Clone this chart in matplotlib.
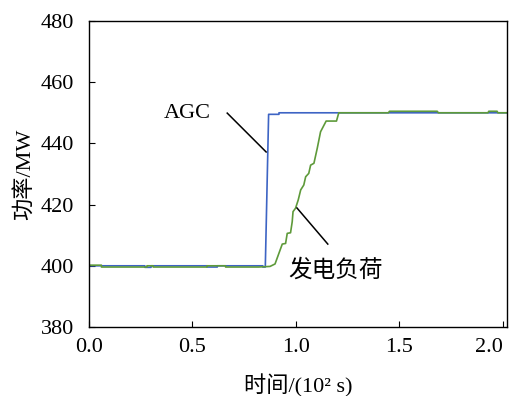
import matplotlib.pyplot as plt
import numpy as np

plt.rcParams['font.family'] = ['Liberation Serif', 'Noto Sans CJK SC']

# AGC command (time in 1e2 s, power in MW)
agc_t = [0.00, 0.27, 0.27, 0.30, 0.30, 0.57, 0.57, 0.62, 0.62, 0.84, 0.84,
         0.852, 0.868, 0.918, 0.918, 2.02]
agc_p = [400.0, 400.0, 399.5, 399.5, 400.0, 400.0, 399.6, 399.6, 400.0, 400.0, 399.6,
         399.6, 449.5, 449.5, 450.0, 450.0]

# generator load
load_t = [0.00, 0.06, 0.06, 0.28, 0.28, 0.31, 0.31, 0.57, 0.57, 0.66, 0.66,
          0.82, 0.82, 0.875, 0.899, 0.934, 0.950, 0.958, 0.974, 0.982, 0.986,
          0.998, 1.011, 1.023, 1.038, 1.047, 1.062, 1.071, 1.087, 1.103, 1.119,
          1.146, 1.196, 1.207, 1.447, 1.452, 1.683, 1.688, 1.928, 1.932, 1.972,
          1.976, 2.02]
load_p = [400.2, 400.2, 399.6, 399.6, 400.0, 400.0, 399.6, 399.6, 400.0, 400.0, 399.6,
          399.6, 399.6, 399.8, 400.6, 407.1, 407.3, 410.6, 410.8, 414.4, 417.7,
          418.8, 421.5, 424.8, 426.4, 429.1, 430.2, 432.9, 433.5, 438.4, 443.8,
          447.3, 447.3, 450.0, 450.0, 450.5, 450.5, 450.0, 450.0, 450.5, 450.5,
          450.0, 450.0]

xticks = [0.0, 0.5, 1.0, 1.5, 2.0]
yticks = [380, 400, 420, 440, 460, 480]

fig = plt.figure(figsize=(5.11, 3.96), dpi=100)
ax = fig.add_axes([89 / 511, 1 - 327 / 396, 418 / 511, 306 / 396])

ax.plot(agc_t, agc_p, color='#3d64c4', lw=1.2)
ax.plot(load_t, load_p, color='#5e9a3a', lw=1.2)

# labels with leader lines
ax.text(0.476, 449.9, 'AGC', fontsize=16, ha='center', va='center')
ax.plot([0.668, 0.856], [449.9, 437.2], color='black', lw=1.1)
ax.text(1.19, 398.6, '发电负荷', fontsize=17, ha='center', va='center')
ax.plot([1.005, 1.154], [418.9, 407.1], color='black', lw=1.1)

ax.set_xlim(0, 2.02)
ax.set_ylim(380, 480)
ax.set_xticks(xticks)
ax.set_xticklabels(['%.1f' % v for v in xticks])
ax.get_xticklabels()[-1].set_ha('right')
ax.set_yticks(yticks)
ax.tick_params(direction='in', length=4, labelsize=16, top=False, right=False)
ax.tick_params(axis='x', pad=8)
ax.tick_params(axis='y', pad=11)
for s in ax.spines.values():
    s.set_linewidth(1.0)

ax.set_xlabel('时间/(10² s)', fontsize=16, labelpad=12)
ax.set_ylabel('功率/MW', fontsize=16, labelpad=4)

fig.savefig('out.png', dpi=100)
